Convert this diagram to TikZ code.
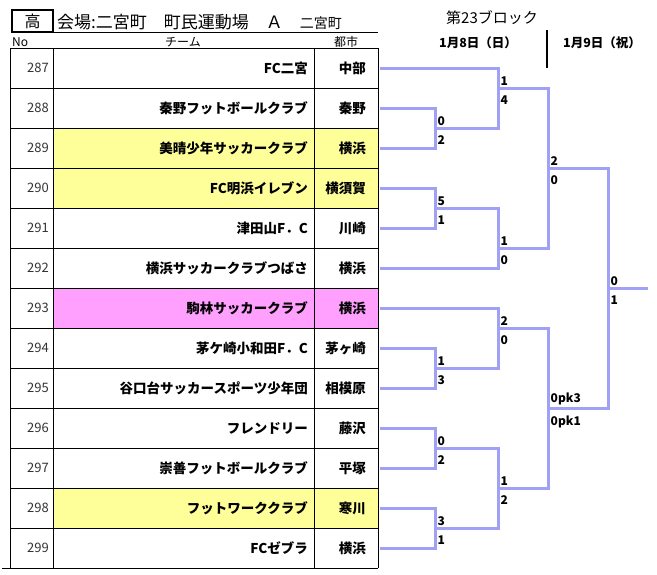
\documentclass[tikz,border=0pt]{standalone}
\usepackage{fontspec}
\setmainfont{Noto Sans CJK JP}
\definecolor{brk}{RGB}{160,160,245}
\definecolor{hiyel}{RGB}{255,255,153}
\definecolor{hipink}{RGB}{255,160,255}
\begin{document}
\begin{tikzpicture}[x=1pt,y=-1pt,
  bk/.style={brk,line width=3pt},
  sc/.style={font=\bfseries\fontsize{12}{12}\selectfont,inner sep=2.5pt},
  sctop/.style={label={[sc]above right:#1}},
  scbot/.style={label={[sc,yshift=-5pt]below right:#1}},
  team/.style={anchor=east,font=\bfseries\fontsize{13.5}{14}\selectfont,inner sep=0pt},
  nr/.style={anchor=east,font=\fontsize{13}{13}\selectfont,text=black!80,inner sep=0pt},
  hd/.style={anchor=base,font=\fontsize{12}{12}\selectfont,inner sep=0pt}]
\useasboundingbox (0,0) rectangle (657,574);
% title
\node[draw,line width=1.5pt,minimum width=41pt,minimum height=22pt,inner sep=0pt,
  font=\fontsize{16}{16}\selectfont] (kou) at (32.5,21) {高};
\node[anchor=base west,inner sep=0pt,font=\fontsize{17}{17}\selectfont] (ttl) at (57,28)
  {会場:二宮町　町民運動場　Ａ　{\fontsize{14}{14}\selectfont 二宮町}};
\draw (53,32) -- (378,32);
\node[hd,anchor=base west] (hno) at (12,46) {No};
\node[hd] (hteam) at (183,46) {チーム};
\node[hd] (hcity) at (346,46) {都市};
\node[font=\fontsize{15}{15}\selectfont,inner sep=0pt] (blk) at (492,18) {第23ブロック};
\node[font=\bfseries\fontsize{12.5}{12.5}\selectfont,inner sep=0pt] (day1) at (478,43) {1月8日（日）};
\node[font=\bfseries\fontsize{12.5}{12.5}\selectfont,inner sep=0pt] (day2) at (602,43) {1月9日（祝）};
\draw[line width=1.8pt] (547,30) -- (547,68);
% rows
\foreach \n/\tm/\ct/\bg [count=\i from 0] in {287/FC二宮/中部/white,
  288/秦野フットボールクラブ/秦野/white, 289/美晴少年サッカークラブ/横浜/hiyel,
  290/FC明浜イレブン/横須賀/hiyel, 291/津田山F．C/川崎/white,
  292/横浜サッカークラブつばさ/横浜/white, 293/駒林サッカークラブ/横浜/hipink,
  294/茅ケ崎小和田F．C/茅ヶ崎/white, 295/谷口台サッカースポーツ少年団/相模原/white,
  296/フレンドリー/藤沢/white, 297/崇善フットボールクラブ/平塚/white,
  298/フットワーククラブ/寒川/hiyel, 299/FCゼブラ/横浜/white} {
  \pgfmathsetmacro\y{48+40*\i}
  \fill[\bg] (53,\y) rectangle ++(325,40);
  \node[nr] (no\n) at (49,\y+20) {\n};
  \node[team] (tm\n) at (308,\y+20) {\tm};
  \node[team] (ct\n) at (366,\y+20) {\ct};
  \coordinate (e\n) at (380,\y+20);
  \draw (10,\y) -- (378,\y);
}
\foreach \x in {10,53,314,378} \draw (\x,48) -- (\x,568);
\draw (2,568) -- (378,568);
% bracket
\coordinate[sctop=0,scbot=2] (j1) at (435,128);
\coordinate[sctop=5,scbot=1] (j2) at (435,208);
\coordinate[sctop=1,scbot=3] (j3) at (435,368);
\coordinate[sctop=0,scbot=2] (j4) at (435,448);
\coordinate[sctop=3,scbot=1] (j5) at (435,528);
\coordinate[sctop=1,scbot=4] (k1) at (498,88);
\coordinate[sctop=1,scbot=0] (k2) at (498,248);
\coordinate[sctop=2,scbot=0] (k3) at (498,328);
\coordinate[sctop=1,scbot=2] (k4) at (498,488);
\coordinate[sctop=2,scbot=0] (m1) at (548,168);
\coordinate[sctop=0pk3,scbot=0pk1] (m2) at (548,408);
\coordinate[sctop=0,scbot=1] (fin) at (608,288);
\coordinate (win) at (648,288);
\draw[bk] (e288) -| (j1) |- (e289);
\draw[bk] (e290) -| (j2) |- (e291);
\draw[bk] (e294) -| (j3) |- (e295);
\draw[bk] (e296) -| (j4) |- (e297);
\draw[bk] (e298) -| (j5) |- (e299);
\draw[bk] (e287) -| (k1) |- (j1);
\draw[bk] (j2) -| (k2) |- (e292);
\draw[bk] (e293) -| (k3) |- (j3);
\draw[bk] (j4) -| (k4) |- (j5);
\draw[bk] (k1) -| (m1) |- (k2);
\draw[bk] (k3) -| (m2) |- (k4);
\draw[bk] (m1) -| (fin) |- (m2);
\draw[bk] (fin) -- (win);
\end{tikzpicture}
\end{document}
